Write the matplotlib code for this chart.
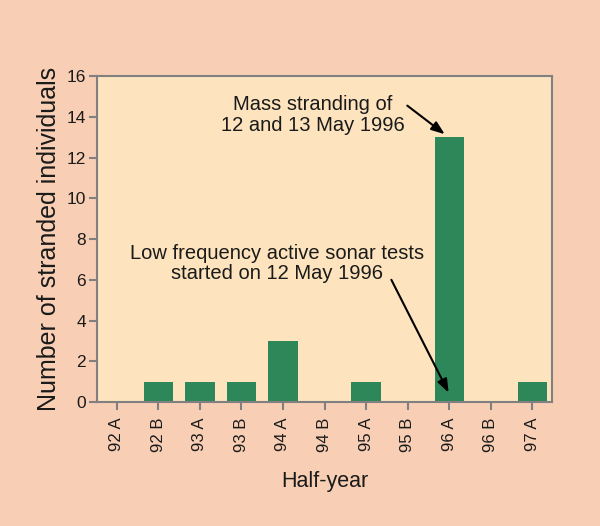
import matplotlib
matplotlib.use("Agg")
import matplotlib.pyplot as plt

categories = ["92 A", "92 B", "93 A", "93 B", "94 A", "94 B", "95 A", "95 B", "96 A", "96 B", "97 A"]
counts = [0, 1, 1, 1, 3, 0, 1, 0, 13, 0, 1]
yticks = [0, 2, 4, 6, 8, 10, 12, 14, 16]

plt.rcParams['font.family'] = ['Liberation Sans', 'DejaVu Sans']

fig = plt.figure(figsize=(6.0, 5.26), dpi=100)
fig.patch.set_facecolor('#f8cfb5')
ax = fig.add_axes([0.1617, 0.2357, 0.9200 - 0.1617, 0.8555 - 0.2357])
ax.set_facecolor('#fde4be')

x = list(range(len(categories)))
ax.bar(x, counts, width=0.7, color='#2e8758', zorder=2)

ax.set_xlim(-0.48, len(categories) - 1 + 0.48)
ax.set_ylim(0, 16)
ax.set_yticks(yticks)
ax.set_yticklabels([str(v) for v in yticks], fontsize=12.5, color='#1a1a1a')
ax.set_xticks(x)
ax.set_xticklabels(categories, rotation=90, fontsize=12, color='#1a1a1a')

for s in ax.spines.values():
    s.set_color('#808080')
    s.set_linewidth(1.5)
ax.tick_params(axis='both', colors='#808080', length=6, width=1.5, labelcolor='#1a1a1a')
ax.tick_params(axis='x', pad=5)
ax.tick_params(axis='y', pad=2)

ax.set_ylabel('Number of stranded individuals', fontsize=18, color='#1a1a1a', labelpad=4)
ax.set_xlabel('Half-year', fontsize=15.5, color='#1a1a1a', labelpad=14)

ax.text(4.72, 14.1, 'Mass stranding of\n12 and 13 May 1996', ha='center', va='center',
        fontsize=14.5, color='#1a1a1a', linespacing=1.12)
ax.annotate('', xy=(7.95, 13.06), xytext=(6.94, 14.63),
            arrowprops=dict(arrowstyle='-|>,head_length=0.8,head_width=0.3', color='black', lw=1.5))

ax.text(3.86, 6.78, 'Low frequency active sonar tests\nstarted on 12 May 1996', ha='center', va='center',
        fontsize=14.5, color='#1a1a1a', linespacing=1.08)
ax.annotate('', xy=(8.02, 0.34), xytext=(6.58, 6.12),
            arrowprops=dict(arrowstyle='-|>,head_length=0.8,head_width=0.3', color='black', lw=1.5))

fig.savefig('out.png', dpi=100, facecolor=fig.get_facecolor())
